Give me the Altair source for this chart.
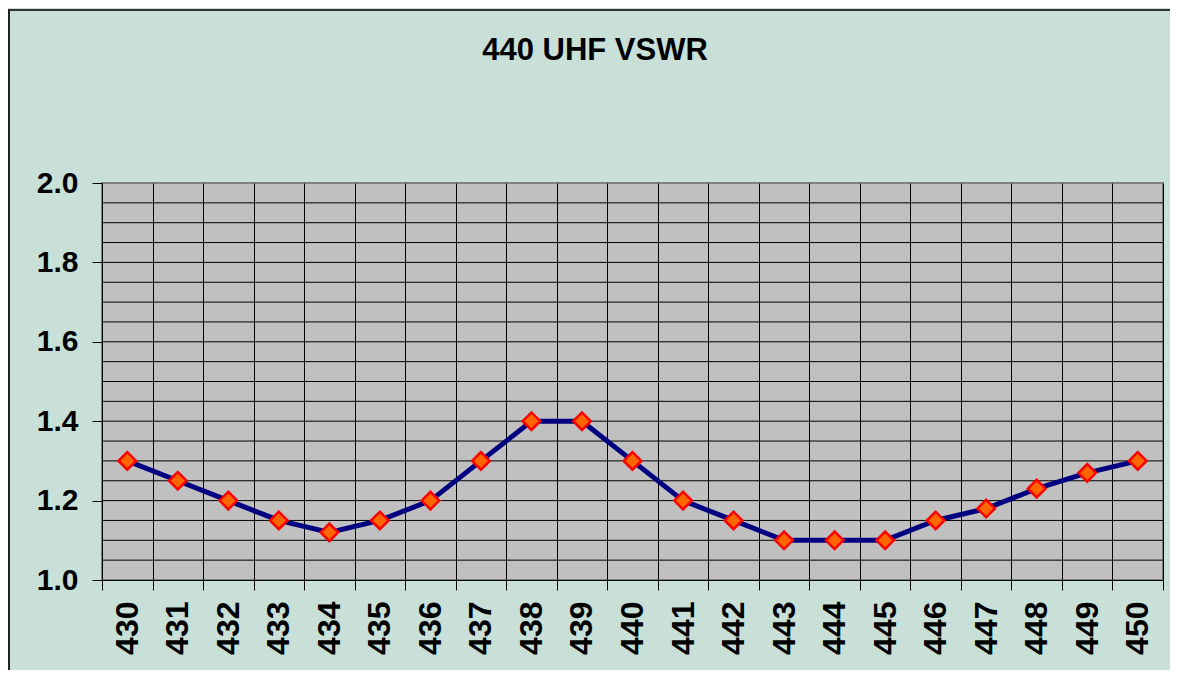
import altair as alt
import pandas as pd

freqs = [430, 431, 432, 433, 434, 435, 436, 437, 438, 439, 440,
         441, 442, 443, 444, 445, 446, 447, 448, 449, 450]
vswr = [1.30, 1.25, 1.20, 1.15, 1.12, 1.15, 1.20, 1.30, 1.40, 1.40, 1.30,
        1.20, 1.15, 1.10, 1.10, 1.10, 1.15, 1.18, 1.23, 1.27, 1.30]
y_ticks = [1.0, 1.2, 1.4, 1.6, 1.8, 2.0]
grid_lines = [1.05, 1.10, 1.15, 1.20, 1.25, 1.30, 1.35, 1.40, 1.45, 1.50,
              1.55, 1.60, 1.65, 1.70, 1.75, 1.80, 1.85, 1.90, 1.95]
title_text = "440 UHF VSWR"

df = pd.DataFrame({"freq": [str(f) for f in freqs], "vswr": vswr})
gdf = pd.DataFrame({"g": grid_lines})

FONT = "Liberation Sans"

xenc = alt.X("freq:O", sort=None, title=None,
             scale=alt.Scale(paddingInner=0, paddingOuter=0),
             axis=alt.Axis(labelAngle=-90, labelFontSize=32, labelFont=FONT,
                           labelFontWeight="bold", labelColor="black",
                           labelPadding=11, tickSize=10, tickColor="black",
                           tickBand="extent", grid=True, gridColor="black",
                           gridWidth=1, gridOpacity=1, domainColor="black",
                           domainWidth=1))
yscale = alt.Scale(domain=[1.0, 2.0], nice=False, zero=False)
yenc = alt.Y("vswr:Q", title=None, scale=yscale,
             axis=alt.Axis(values=y_ticks, format=".1f", labelFontSize=30,
                           labelFont=FONT, labelFontWeight="bold",
                           labelColor="black", labelPadding=14, tickSize=10,
                           tickColor="black", grid=False, domain=False))

hgrid = alt.Chart(gdf).mark_rule(color="black", strokeWidth=1).encode(
    y=alt.Y("g:Q", scale=yscale)
)

line = alt.Chart(df).mark_line(color="#000080", strokeWidth=5).encode(
    x=xenc, y=yenc
)
points = alt.Chart(df).mark_point(shape="diamond", filled=True, fill="#FF6600",
                                  stroke="#FF0000", strokeWidth=2.5, size=310,
                                  opacity=1).encode(x=xenc, y=yenc)

one = pd.DataFrame({"a": [0]})
title = alt.Chart(one).mark_text(
    text=title_text, font=FONT, fontSize=31, fontWeight="bold",
    color="black", align="center", baseline="alphabetic"
).encode(x=alt.value(493), y=alt.value(-123))

top_border = alt.Chart(one).mark_rule(color="#333333", strokeWidth=2).encode(
    x=alt.value(-94), x2=alt.value(1080), y=alt.value(-173)
)
left_border = alt.Chart(one).mark_rule(color="#222222", strokeWidth=2).encode(
    x=alt.value(-93), y=alt.value(-174), y2=alt.value(500)
)

chart = alt.layer(hgrid, line, points, title, top_border, left_border).properties(
    width=1061, height=397,
    background="#C8E0D8",
    padding={"left": 94, "top": 175, "right": 7, "bottom": 90},
    autosize=alt.AutoSizeParams(type="none"),
).configure_view(fill="#C0C0C0", stroke="#808080", strokeWidth=2)

chart.save("out.html", embed_options={"renderer": "svg", "actions": False})
